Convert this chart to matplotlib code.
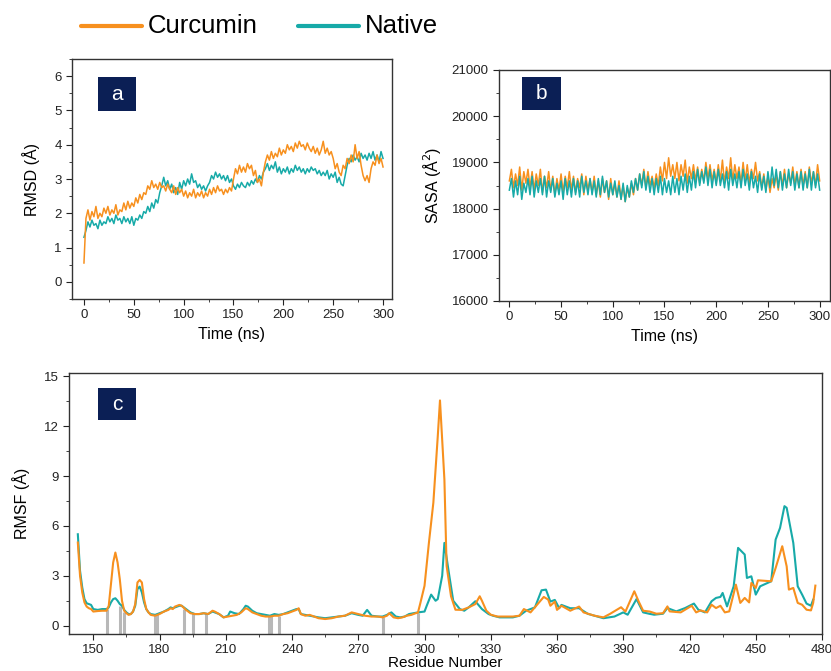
import numpy as np
import matplotlib
matplotlib.use("Agg")
import matplotlib.pyplot as plt
from matplotlib.lines import Line2D
from matplotlib.patches import Rectangle
from matplotlib.ticker import MultipleLocator

plt.rcParams['font.family'] = ['Liberation Sans', 'DejaVu Sans']

ORANGE = '#f7901e'
TEAL = '#17aaa8'
NAVY = '#0b1f55'

# ---- RMSD (A), sampled every 2 ns ----
time_ns = np.arange(0, 301, 2)
rmsd_curcumin = [
    0.55,
    1.85, 2.1, 1.8, 2.05, 1.9, 2.2, 1.85, 2.0, 1.9, 2.15,
    2.0, 2.2, 1.95, 2.1, 2.0, 2.25, 1.95, 2.1, 2.05, 2.3,
    2.1, 2.35, 2.15, 2.3, 2.2, 2.45, 2.3, 2.55, 2.4, 2.6,
    2.55, 2.8, 2.7, 2.95, 2.75, 2.85, 2.7, 2.9, 2.75, 2.8,
    2.65, 2.85, 2.7, 2.6, 2.8, 2.55, 2.75, 2.6, 2.7, 2.5,
    2.65, 2.45, 2.6, 2.5, 2.7, 2.45, 2.6, 2.5, 2.65, 2.45,
    2.6, 2.5, 2.7, 2.55, 2.75, 2.6, 2.8, 2.65, 2.7, 2.55,
    2.7, 2.6, 2.75, 2.65, 3.0, 3.3, 3.15, 3.4, 3.2, 3.35,
    3.2, 3.45, 3.3, 3.4, 3.1, 3.25, 2.9, 3.0, 2.8, 3.2,
    3.5, 3.7, 3.55, 3.8, 3.6, 3.75, 3.65, 3.9, 3.7, 3.85,
    3.75, 4.0, 3.85, 3.95, 3.8, 4.05, 3.9, 4.1, 3.95, 4.0,
    3.85, 4.05, 3.9, 3.8, 3.95, 3.75, 3.9, 3.7, 3.85, 4.1,
    3.75, 3.9, 3.7, 3.8, 3.6, 3.3, 3.45, 3.2, 3.1, 3.4,
    3.3, 3.6, 3.45, 3.7, 3.5, 4.0, 3.6, 3.8, 3.4, 3.1,
    2.95, 3.1, 2.9, 3.3, 3.5, 3.4, 3.7, 3.45, 3.6, 3.35,
]
rmsd_native = [
    1.3,
    1.5, 1.75, 1.6, 1.8, 1.65, 1.7, 1.55, 1.8, 1.65, 1.75,
    1.7, 1.9, 1.75, 1.85, 1.7, 1.95, 1.8, 1.85, 1.7, 1.9,
    1.75, 1.85, 1.7, 1.9, 1.65, 1.85, 1.8, 1.95, 1.85, 2.05,
    2.0, 2.2, 2.05, 2.3, 2.15, 2.4, 2.3, 2.6, 2.8, 3.05,
    2.8, 2.95, 2.7, 2.85, 2.6, 2.75, 2.55, 2.9, 2.7, 2.95,
    2.8, 3.0, 2.85, 3.15, 2.9, 2.95, 2.75, 2.85, 2.7, 2.8,
    2.65, 2.8, 2.9, 3.1, 3.0, 3.2, 3.05, 3.15, 3.0, 3.1,
    2.95, 3.1, 2.9, 3.0, 2.8, 2.7, 2.85, 2.75, 2.9, 2.8,
    2.75, 2.9, 2.8, 2.95, 2.85, 3.0, 2.9, 3.1, 3.0, 3.2,
    3.3, 3.45, 3.25, 3.4, 3.3, 3.5, 3.2, 3.35, 3.15, 3.3,
    3.2, 3.35, 3.15, 3.3, 3.2, 3.4, 3.25, 3.35, 3.2, 3.3,
    3.15, 3.3, 3.2, 3.35, 3.25, 3.3, 3.15, 3.25, 3.1, 3.2,
    3.1, 3.25, 3.0, 3.15, 3.05, 3.2, 2.9, 3.05, 2.85, 2.8,
    3.1, 3.4, 3.6, 3.5, 3.7, 3.55, 3.65, 3.5, 3.75, 3.6,
    3.7, 3.55, 3.75, 3.6, 3.8, 3.55, 3.7, 3.5, 3.8, 3.6,
]

# ---- SASA (A^2), sampled every 2 ns ----
sasa_curcumin = [
    18600,
    18850, 18450, 18750, 18500, 18900, 18400, 18800, 18550, 18850, 18450,
    18800, 18400, 18750, 18500, 18850, 18350, 18700, 18450, 18800, 18400,
    18700, 18300, 18650, 18400, 18750, 18350, 18700, 18450, 18800, 18400,
    18700, 18350, 18650, 18450, 18750, 18300, 18700, 18400, 18650, 18350,
    18700, 18300, 18600, 18250, 18650, 18350, 18600, 18200, 18650, 18300,
    18550, 18250, 18600, 18200, 18500, 18150, 18450, 18250, 18550, 18300,
    18650, 18400, 18750, 18500, 18850, 18450, 18800, 18500, 18700, 18450,
    18750, 18500, 18900, 18600, 19000, 18650, 19100, 18700, 18950, 18650,
    19000, 18600, 18950, 18700, 19050, 18550, 18900, 18650, 18950, 18600,
    18900, 18550, 18850, 18600, 19000, 18650, 18950, 18600, 18850, 18550,
    18950, 18600, 19050, 18550, 18900, 18650, 19100, 18600, 18950, 18650,
    18900, 18550, 19000, 18600, 18950, 18550, 18850, 18650, 19000, 18600,
    18800, 18450, 18750, 18400, 18700, 18350, 18650, 18450, 18750, 18400,
    18800, 18500, 18850, 18450, 18750, 18550, 18900, 18500, 18800, 18450,
    18850, 18500, 18800, 18450, 18900, 18550, 18800, 18500, 18950, 18600,
]
sasa_native = [
    18400,
    18650, 18250, 18600, 18300, 18700, 18200, 18550, 18350, 18650, 18300,
    18700, 18250, 18600, 18350, 18650, 18300, 18700, 18250, 18600, 18350,
    18650, 18250, 18550, 18300, 18600, 18200, 18650, 18300, 18600, 18250,
    18650, 18300, 18600, 18250, 18700, 18350, 18600, 18300, 18650, 18300,
    18600, 18250, 18650, 18300, 18700, 18350, 18600, 18250, 18550, 18300,
    18600, 18250, 18500, 18200, 18550, 18150, 18500, 18250, 18600, 18350,
    18650, 18400, 18750, 18450, 18800, 18400, 18700, 18350, 18650, 18300,
    18650, 18350, 18700, 18300, 18650, 18350, 18600, 18300, 18700, 18350,
    18650, 18300, 18700, 18400, 18750, 18350, 18700, 18400, 18800, 18450,
    18850, 18500, 18800, 18550, 18900, 18500, 18850, 18450, 18800, 18500,
    18850, 18500, 18750, 18450, 18800, 18400, 18850, 18500, 18750, 18450,
    18800, 18450, 18850, 18500, 18750, 18400, 18800, 18450, 18700, 18350,
    18750, 18400, 18700, 18350, 18800, 18450, 18900, 18500, 18850, 18450,
    18800, 18400, 18750, 18450, 18850, 18500, 18800, 18400, 18750, 18450,
    18800, 18400, 18750, 18450, 18850, 18400, 18800, 18450, 18750, 18400,
]

# ---- RMSF (A) per residue ----
res_curcumin = [
    143, 144, 145, 146, 147, 148, 149, 150, 152, 154, 156, 157, 158, 159, 160,
    161, 162, 163, 164, 165, 166, 167, 168, 169, 170, 171, 172, 173, 174, 175,
    176, 178, 180, 182, 184, 185, 186, 187, 189, 190, 192, 194, 196, 198, 200,
    202, 204, 205, 207, 209, 211, 213, 215, 217, 219, 220, 222, 224, 226, 228,
    230, 232, 234, 236, 238, 240, 242, 243, 244, 246, 248, 250, 252, 255, 258,
    261, 264, 267, 270, 273, 276, 279, 281, 283, 284, 286, 288, 290, 292, 294,
    296, 297, 298, 300, 302, 304, 306, 307, 309, 310, 312, 314, 317, 320, 323,
    325, 326, 328, 330, 333, 336, 340, 343, 345, 348, 351, 354, 356, 357, 359,
    360, 362, 366, 370, 372, 377, 381, 384, 389, 391, 395, 397, 399, 402, 405,
    408, 410, 411, 416, 421, 423, 425, 428, 430, 432, 434, 436, 438, 441, 443,
    445, 447, 448, 450, 451, 457, 459, 462, 464, 465, 467, 469, 471, 473, 475,
    476, 477,
]
rmsf_curcumin = [
    5.0, 3.0, 2.0, 1.4, 1.15, 1.05, 1.0, 0.85, 0.88, 0.9, 0.9, 1.2, 2.5, 3.8, 4.4,
    3.8, 2.8, 1.5, 0.9, 0.75, 0.65, 0.7, 0.85, 1.3, 2.6, 2.75, 2.6, 1.6, 1.0, 0.8,
    0.65, 0.6, 0.7, 0.85, 0.95, 1.05, 1.0, 1.15, 1.25, 1.2, 0.95, 0.75, 0.7, 0.7, 0.75,
    0.7, 0.9, 0.85, 0.7, 0.5, 0.55, 0.6, 0.65, 0.8, 1.05, 1.0, 0.8, 0.7, 0.6, 0.55,
    0.55, 0.6, 0.6, 0.7, 0.75, 0.85, 0.95, 1.05, 0.7, 0.6, 0.65, 0.55, 0.45, 0.4, 0.45,
    0.55, 0.6, 0.8, 0.7, 0.6, 0.55, 0.55, 0.5, 0.6, 0.75, 0.5, 0.45, 0.5, 0.6, 0.65,
    0.75, 0.78, 1.3, 2.4, 5.0, 7.4, 11.4, 13.55, 8.8, 3.6, 1.77, 0.96, 0.95, 1.1, 1.3,
    1.77, 1.5, 0.9, 0.66, 0.55, 0.55, 0.55, 0.6, 1.0, 0.8, 1.27, 1.73, 1.57, 1.2, 1.45,
    0.95, 1.2, 0.9, 1.15, 0.8, 0.6, 0.5, 0.71, 1.11, 0.85, 2.07, 1.45, 0.9, 0.85, 0.72,
    0.75, 1.16, 0.86, 0.8, 1.2, 0.8, 0.92, 0.8, 1.26, 1.06, 1.2, 0.8, 0.86, 2.47, 1.37,
    1.67, 1.4, 2.57, 2.27, 2.73, 2.67, 3.47, 4.78, 3.57, 2.17, 2.27, 1.37, 1.26, 0.96, 0.92,
    1.37, 2.41,
]
res_native = [
    143, 144, 145, 146, 147, 148, 149, 150, 152, 154, 156, 157, 158, 159, 160,
    161, 162, 163, 164, 165, 166, 167, 168, 169, 170, 171, 172, 173, 174, 175,
    176, 178, 180, 182, 184, 185, 186, 187, 189, 190, 192, 194, 196, 198, 200,
    202, 204, 205, 207, 209, 211, 212, 214, 216, 218, 219, 220, 222, 224, 226,
    228, 230, 232, 234, 236, 238, 240, 242, 243, 244, 246, 248, 250, 252, 255,
    258, 261, 264, 267, 270, 272, 274, 276, 279, 281, 283, 285, 287, 289, 291,
    293, 295, 297, 300, 301, 303, 305, 306, 308, 309, 311, 313, 316, 318, 320,
    323, 326, 329, 331, 334, 340, 343, 346, 350, 353, 355, 357, 359, 361, 362,
    366, 370, 374, 381, 386, 390, 392, 396, 399, 402, 404, 408, 410, 414, 418,
    422, 424, 427, 430, 432, 434, 435, 437, 440, 442, 445, 446, 448, 450, 452,
    457, 459, 461, 463, 464, 467, 469, 471, 473, 475, 476,
]
rmsf_native = [
    5.5, 3.3, 2.3, 1.6, 1.35, 1.3, 1.25, 1.0, 0.95, 1.0, 1.0, 1.1, 1.4, 1.6, 1.65,
    1.5, 1.3, 1.2, 0.95, 0.8, 0.7, 0.7, 0.85, 1.2, 2.2, 2.35, 2.0, 1.4, 1.0, 0.8,
    0.7, 0.65, 0.75, 0.85, 1.0, 1.1, 1.05, 1.1, 1.2, 1.2, 1.0, 0.8, 0.7, 0.7, 0.75,
    0.7, 0.85, 0.8, 0.7, 0.5, 0.6, 0.85, 0.75, 0.7, 1.0, 1.2, 1.15, 0.9, 0.75, 0.7,
    0.65, 0.6, 0.7, 0.65, 0.7, 0.8, 0.9, 1.0, 1.0, 0.7, 0.65, 0.6, 0.55, 0.5, 0.45,
    0.5, 0.55, 0.6, 0.75, 0.65, 0.6, 0.95, 0.6, 0.55, 0.55, 0.65, 0.8, 0.55, 0.5, 0.55,
    0.7, 0.75, 0.8, 0.85, 1.2, 1.87, 1.5, 1.6, 3.0, 4.98, 3.2, 1.5, 1.0, 0.9, 1.1,
    1.47, 1.0, 0.7, 0.6, 0.5, 0.5, 0.6, 0.9, 1.1, 2.13, 2.17, 1.45, 1.55, 1.05, 1.25,
    1.05, 1.05, 0.71, 0.45, 0.55, 0.8, 0.66, 1.6, 0.8, 0.71, 0.66, 0.72, 1.06, 0.86, 1.06,
    1.33, 0.96, 0.8, 1.47, 1.67, 1.73, 1.97, 1.16, 2.37, 4.68, 4.28, 2.87, 2.97, 1.87, 2.37,
    2.67, 5.18, 5.88, 7.19, 7.09, 4.98, 2.37, 1.87, 1.33, 1.2, 1.56,
]

# grey markers along the residue axis
marker_res = [156, 162, 164, 178, 179, 191, 195, 201, 229.5, 230.5, 234, 281, 297]
marker_top = [1.0, 1.2, 0.85, 0.7, 0.7, 1.0, 0.75, 0.75, 0.6, 0.6, 0.6, 0.55, 0.78]

W, H = 831, 671
fig = plt.figure(figsize=(W / 100, H / 100), dpi=100)


def px_axes(left, top, right, bottom):
    return fig.add_axes([left / W, 1 - bottom / H, (right - left) / W, (bottom - top) / H])


def style(ax):
    for sp in ax.spines.values():
        sp.set_color('#333333')
        sp.set_linewidth(1.0)
    ax.tick_params(which='both', direction='out', top=False, right=False,
                   labelsize=9.5, colors='#222222')
    ax.tick_params(which='major', length=4)
    ax.tick_params(which='minor', length=2.5)


def label_box(x0, y0, x1, y1, letter):
    fig.add_artist(Rectangle((x0 / W, 1 - y1 / H), (x1 - x0) / W, (y1 - y0) / H,
                             transform=fig.transFigure, facecolor=NAVY, edgecolor='none'))
    fig.text((x0 + x1) / 2 / W, 1 - (y0 + y1) / 2 / H, letter, color='white',
             fontsize=15, ha='center', va='center')


# panel a
ax_a = px_axes(72, 59, 392, 299)
ax_a.plot(time_ns, rmsd_native, color=TEAL, lw=1.1)
ax_a.plot(time_ns, rmsd_curcumin, color=ORANGE, lw=1.1)
ax_a.set_xlim(-12, 309)
ax_a.set_ylim(-0.5, 6.5)
ax_a.xaxis.set_major_locator(MultipleLocator(50))
ax_a.xaxis.set_minor_locator(MultipleLocator(25))
ax_a.yaxis.set_major_locator(MultipleLocator(1))
ax_a.yaxis.set_minor_locator(MultipleLocator(0.5))
ax_a.set_xlabel('Time (ns)', fontsize=11.5, labelpad=4)
ax_a.set_ylabel('RMSD (Å)', fontsize=11.5, labelpad=10)
style(ax_a)

# panel b
ax_b = px_axes(499, 70, 830, 301)
ax_b.plot(time_ns, sasa_curcumin, color=ORANGE, lw=1.1)
ax_b.plot(time_ns, sasa_native, color=TEAL, lw=1.1)
ax_b.set_xlim(-10, 310)
ax_b.set_ylim(16000, 21000)
ax_b.xaxis.set_major_locator(MultipleLocator(50))
ax_b.xaxis.set_minor_locator(MultipleLocator(25))
ax_b.yaxis.set_major_locator(MultipleLocator(1000))
ax_b.yaxis.set_minor_locator(MultipleLocator(500))
ax_b.set_xlabel('Time (ns)', fontsize=11.5, labelpad=4)
ax_b.set_ylabel('SASA (Å$^2$)', fontsize=11.5, labelpad=6)
style(ax_b)

# panel c
ax_c = px_axes(69, 373, 822, 634)
ax_c.vlines(marker_res, -0.5, marker_top, color='#b8b8b8', lw=2.2, zorder=1)
ax_c.plot(res_native, rmsf_native, color=TEAL, lw=1.5, zorder=2)
ax_c.plot(res_curcumin, rmsf_curcumin, color=ORANGE, lw=1.5, zorder=3)
ax_c.set_xlim(139, 480)
ax_c.set_ylim(-0.5, 15.2)
ax_c.xaxis.set_major_locator(MultipleLocator(30))
ax_c.xaxis.set_minor_locator(MultipleLocator(15))
ax_c.yaxis.set_major_locator(MultipleLocator(3))
ax_c.yaxis.set_minor_locator(MultipleLocator(1.5))
ax_c.set_xlabel('Residue Number', fontsize=11, labelpad=0)
ax_c.set_ylabel('RMSF (Å)', fontsize=11.5, labelpad=10)
style(ax_c)

label_box(98, 77, 136, 111, 'a')
label_box(522, 77, 561, 110, 'b')
label_box(98, 388, 136, 420, 'c')

# legend at the top
fig.add_artist(Line2D([81 / W, 142 / W], [1 - 26 / H, 1 - 26 / H], color=ORANGE,
                      lw=3, solid_capstyle='round', transform=fig.transFigure))
fig.text(148 / W, 1 - 26 / H, 'Curcumin', fontsize=18.5, va='center', ha='left')
fig.add_artist(Line2D([298 / W, 359 / W], [1 - 26 / H, 1 - 26 / H], color=TEAL,
                      lw=3, solid_capstyle='round', transform=fig.transFigure))
fig.text(365 / W, 1 - 26 / H, 'Native', fontsize=18.5, va='center', ha='left')

fig.savefig('out.png', dpi=100)
